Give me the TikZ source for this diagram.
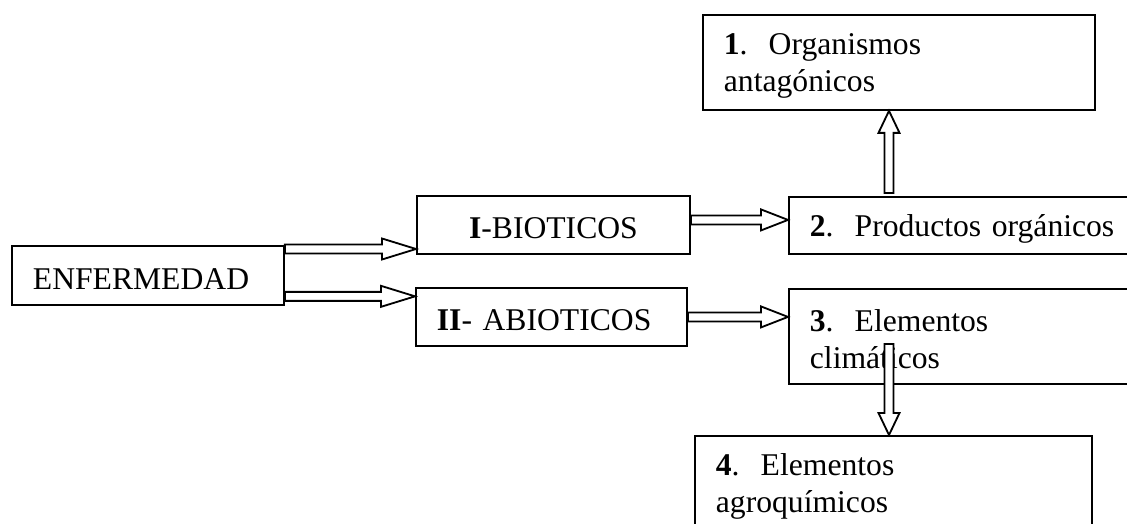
\documentclass[tikz,border=0pt]{standalone}
\usepackage{fontspec}
\setmainfont{Liberation Serif}
\usetikzlibrary{calc}

\newcommand{\topstrut}{\rule{0pt}{0.7cm}}

\tikzset{
  box/.style={draw, line width=1.3pt, anchor=north west, inner xsep=0.525cm, inner ysep=0pt,
    align=left, font=\fontsize{22.5}{26}\selectfont, execute at begin node=\topstrut},
  blockarrow/.style={draw, fill=white, line width=1.3pt, line join=miter, to path={
    ($(\tikztostart)!0.1125cm!90:(\tikztotarget)$)
    -- ($(\tikztotarget)!#1!(\tikztostart)!0.1125cm!90:(\tikztotarget)$)
    -- ($(\tikztotarget)!#1!(\tikztostart)!0.2625cm!90:(\tikztotarget)$)
    -- (\tikztotarget)
    -- ($(\tikztotarget)!#1!(\tikztostart)!0.2625cm!-90:(\tikztotarget)$)
    -- ($(\tikztotarget)!#1!(\tikztostart)!0.1125cm!-90:(\tikztotarget)$)
    -- ($(\tikztostart)!0.1125cm!-90:(\tikztotarget)$) -- cycle}}
}

\begin{document}
\begin{tikzpicture}[x=0.025cm, y=-0.025cm]

\path[use as bounding box, fill=white] (0,0) rectangle (1127,524);

% cajas
\node[box, minimum width=6.8cm, minimum height=1.475cm, text width=5.75cm] (enf) at (11,245) {ENFERMEDAD};
\node[box, align=center, minimum width=6.825cm, minimum height=1.45cm, text width=5.775cm] (bio) at (416,195) {\textbf{I}-BIOTICOS};
\node[box, minimum width=6.775cm, minimum height=1.45cm, text width=5.725cm] (abio) at (415,287) {\textbf{II}- ABIOTICOS};
\node[box, minimum width=9.3cm, minimum height=1.425cm, text width=8.25cm] (org) at (788,196) {\textbf{2}.\ \ Productos orgánicos};
\node[box, minimum width=9.8cm, minimum height=2.375cm, text width=8.75cm] (ant) at (702,14) {\textbf{1}.\ \ Organismos\\antagónicos};
\node[box, minimum width=9.3cm, minimum height=2.375cm, text width=8.25cm] (clim) at (788,288) {\textbf{3}.\ \ Elementos\\climáticos};
\node[box, minimum width=9.925cm, minimum height=2.375cm, text width=8.875cm] (agro) at (694,435) {\textbf{4}.\ \ Elementos\\agroquímicos};

% flechas
\coordinate (e1) at ($(enf.north east)+(0,4)$);
\coordinate (e2) at ($(enf.south east)+(0,-9.5)$);
\coordinate (b1) at ($(bio.east)+(0,-5)$);
\coordinate (a1) at (abio.east);
\coordinate (o1) at ($(org.north west)+(101,-3)$);
\coordinate (c1) at ($(clim.north west)+(101,56)$);

\draw[blockarrow=0.85cm] (e1) to (e1 -| bio.west);
\draw[blockarrow=0.85cm] (e2) to (e2 -| abio.west);
\draw[blockarrow=0.675cm] (b1) to (b1 -| org.west);
\draw[blockarrow=0.675cm] (a1) to (a1 -| clim.west);
\draw[blockarrow=0.55cm] (o1) to (o1 |- ant.south);
\draw[blockarrow=0.55cm] (c1) to (c1 |- agro.north);

\end{tikzpicture}
\end{document}
